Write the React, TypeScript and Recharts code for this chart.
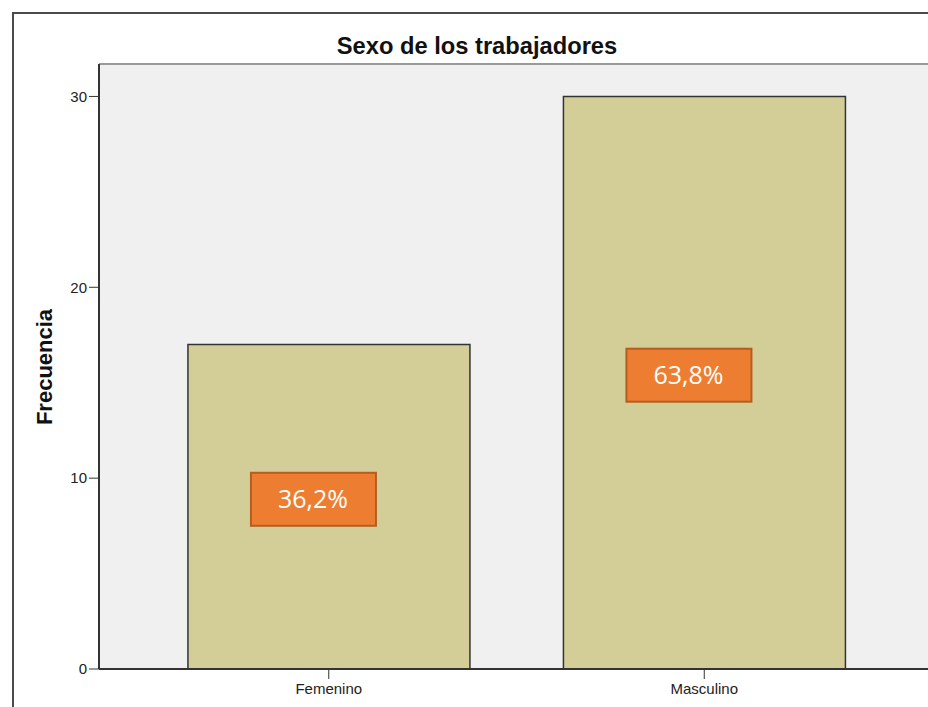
import * as React from 'react';
import { BarChart, Bar, XAxis, YAxis, CartesianGrid, ReferenceLine, LabelList } from 'recharts';

const categories: string[] = ['Femenino', 'Masculino'];
const frecuencias: number[] = [17, 30];
const yTicks: number[] = [0, 10, 20, 30];
const yMax = 31.7;

const total = frecuencias.reduce((a, b) => a + b, 0);
const data = categories.map((c, i) => ({ sexo: c, frecuencia: frecuencias[i] }));

const PctLabel = (props: any) => {
  const { x, y, width, height, value } = props;
  const cx = Number(x) + Number(width) / 2 - 16;
  const cy = Number(y) + Number(height) / 2 - 8;
  const pct = ((Number(value) / total) * 100).toFixed(1).replace('.', ',') + '%';
  return (
    <g>
      <rect x={cx - 62} y={cy - 26} width={125} height={53} fill="#ed7d31" stroke="#b55d1f" strokeWidth={2} />
      <text x={cx} y={cy} dy="0.36em" textAnchor="middle" fill="#ffffff" fontSize={25} fontFamily="'Open Sans', sans-serif">
        {pct}
      </text>
    </g>
  );
};

const App = () => {
  const font = "'Liberation Sans', Arial, sans-serif";
  return (
    <div style={{ position: 'fixed', left: 0, top: 0, width: 928, height: 707, overflow: 'hidden', background: '#fff', fontFamily: font }}>
      <div style={{ position: 'absolute', left: 12, top: 12, width: 1000, height: 800, border: '2px solid #4a4a4a' }} />
      <div style={{ position: 'absolute', left: 0, width: 954, top: 35, textAlign: 'center', fontSize: 23.7, lineHeight: 1, fontWeight: 'bold', color: '#111' }}>
        Sexo de los trabajadores
      </div>
      <div style={{ position: 'absolute', left: 45, top: 367, transform: 'translate(-50%, -50%) rotate(-90deg)', fontSize: 22, lineHeight: 1, fontWeight: 'bold', color: '#111', whiteSpace: 'nowrap' }}>
        Frecuencia
      </div>
      <div style={{ position: 'absolute', left: 0, top: 0 }}>
        <BarChart width={960} height={707} data={data} margin={{ top: 64, right: 20, bottom: 0, left: 0 }} barCategoryGap="12.5%">
          <CartesianGrid horizontal={false} vertical={false} fill="#f0f0f0" />
          <ReferenceLine y={yMax} stroke="#9a9a9a" strokeWidth={2} ifOverflow="visible" />
          <XAxis
            dataKey="sexo"
            height={38}
            padding={{ left: 42, right: 48 }}
            tickSize={10}
            tickMargin={4}
            tick={{ fontSize: 15, fill: '#222', fontFamily: font }}
            axisLine={{ stroke: '#333', strokeWidth: 2 }}
            tickLine={{ stroke: '#333' }}
          />
          <YAxis
            width={99}
            domain={[0, yMax]}
            ticks={yTicks}
            tickSize={10}
            tickMargin={2}
            tick={{ fontSize: 15, fill: '#222', fontFamily: font }}
            axisLine={{ stroke: '#333', strokeWidth: 2 }}
            tickLine={{ stroke: '#333' }}
          />
          <Bar dataKey="frecuencia" fill="#d3ce98" stroke="#333" strokeWidth={1.5} isAnimationActive={false}>
            <LabelList dataKey="frecuencia" content={PctLabel} />
          </Bar>
        </BarChart>
      </div>
    </div>
  );
};

export default App;
